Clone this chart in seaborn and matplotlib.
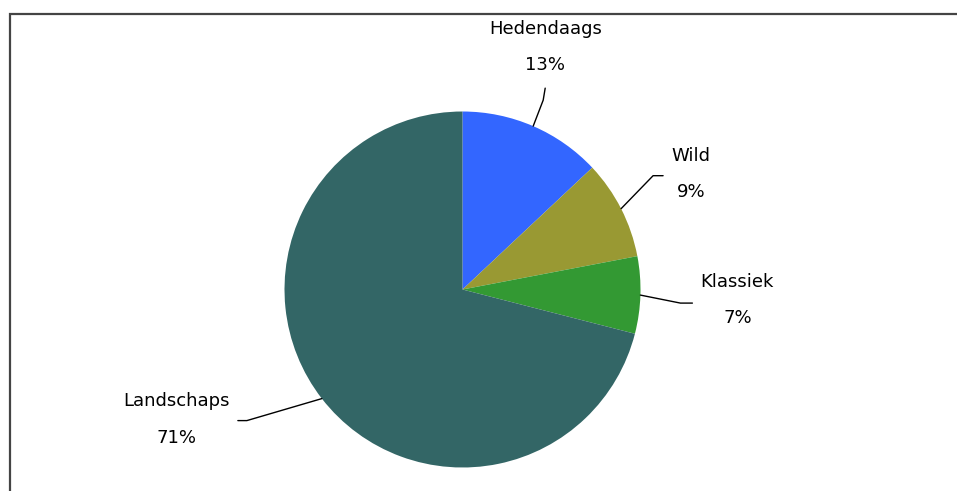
import numpy as np
import matplotlib
matplotlib.use("Agg")
import matplotlib.pyplot as plt
import seaborn as sns
from matplotlib.patches import Rectangle

categories = ["Hedendaags", "Wild", "Klassiek", "Landschaps"]
values = [13, 9, 7, 71]
colors = ["#3366FF", "#999933", "#339933", "#336666"]

# leader-line elbow offsets and label offsets (pixels, y down)
elbow = [(10, -26), (32, -33), (40, 8), (-75, 22)]
tail = [(2, -12), (10, 0), (12, 0), (-9, 0)]
label_off = [(0, -41), (28, -2), (45, -3), (-61, -1)]

sns.set_theme(style="white")
plt.rcParams["font.family"] = ["DejaVu Sans"]

W, H = 957, 491
fig = plt.figure(figsize=(W / 100, H / 100), dpi=100)
fig.patch.set_facecolor("white")
ax = fig.add_axes([0, 0, 1, 1])

cx, cy_px, R = 462.5, 289.5, 178
cy = H - cy_px

wedges, _ = ax.pie(values, colors=colors, startangle=90, counterclock=False,
                   center=(cx, cy), radius=R, frame=True,
                   wedgeprops=dict(linewidth=0, edgecolor="none"))
ax.set_xlim(0, W)
ax.set_ylim(0, H)
ax.set_aspect("equal")
ax.axis("off")

# frame (only top and left visible)
ax.add_patch(Rectangle((10, -200), 1500, H - 14 + 200, fill=False,
                       edgecolor="#444444", linewidth=1.6, zorder=5,
                       clip_on=True))

for i, w in enumerate(wedges):
    mid = np.deg2rad((w.theta1 + w.theta2) / 2)
    x0 = cx + R * np.cos(mid)
    y0 = cy + R * np.sin(mid)
    x1 = x0 + elbow[i][0]
    y1 = y0 - elbow[i][1]
    x2 = x1 + tail[i][0]
    y2 = y1 - tail[i][1]
    ax.plot([x0, x1, x2], [y0, y1, y2], color="black", lw=1.0, zorder=4)
    tx = x2 + label_off[i][0]
    ty = y2 - label_off[i][1]
    ax.text(tx, ty, f"{categories[i]}\n{values[i]}%", ha="center", va="center",
            multialignment="center", fontsize=13, linespacing=2.3,
            color="black")

fig.savefig("out.png", dpi=100)
